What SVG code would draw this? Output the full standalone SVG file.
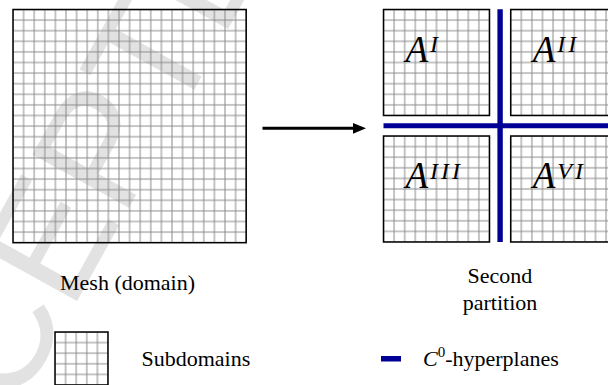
<svg xmlns="http://www.w3.org/2000/svg" width="608" height="385" viewBox="0 0 608 385">
  <defs>
    <style>
      .lbl { font-family: "Liberation Serif", "Times New Roman", serif; font-size: 22px; fill: #000; }
      .mathA { font-family: "Liberation Serif", "Times New Roman", serif; font-style: italic; font-size: 37px; fill: #000; }
      .sup { font-size: 24px; letter-spacing: 3px; }
      .frame { fill: url(#cells); stroke: #000; stroke-width: 1.5; }
      .plane { stroke: #000096; fill: none; }
      .stamp { font-family: "Liberation Sans", Arial, sans-serif; font-size: 160px; fill: #e2e2e2; }
    </style>
    <!-- one mesh cell, 10.6 px; tile edges share half of each line -->
    <pattern id="cells" patternUnits="userSpaceOnUse" width="10.6" height="10.6">
      <path d="M0 0H10.6M0 10.6H10.6M0 0V10.6M10.6 0V10.6" stroke="#8a8a8a" stroke-width="1"/>
    </pattern>
    <marker id="head" markerUnits="userSpaceOnUse" markerWidth="14" markerHeight="12" refX="1" refY="6" orient="auto">
      <path d="M0 0.6L13 6L0 11.4Z" fill="#000"/>
    </marker>
  </defs>

  <rect width="608" height="385" fill="#fff"/>

  <!-- faint background stamp -->
  <text class="stamp" transform="translate(-93,608) rotate(-61)">ACCEPTED</text>

  <!-- full mesh, 22 x 22 cells -->
  <g id="mesh">
    <rect class="frame" x="0" y="0" width="233.2" height="233.2" transform="translate(13,9.5)"/>
    <text class="lbl" x="60" y="289.5">Mesh (domain)</text>
  </g>

  <!-- second partition: four 10 x 10 subdomains split by C0 hyperplanes -->
  <g id="partition">
    <g id="sub-1" transform="translate(383.5,9.5)">
      <rect class="frame" width="106" height="106"/>
      <text class="mathA" x="22" y="52.2">A<tspan class="sup" dx="2" dy="-9.5">I</tspan></text>
    </g>
    <g id="sub-2" transform="translate(510.7,9.5)">
      <rect class="frame" width="106" height="106"/>
      <text class="mathA" x="22" y="52.2">A<tspan class="sup" dx="2" dy="-9.5">II</tspan></text>
    </g>
    <g id="sub-3" transform="translate(383.5,136)">
      <rect class="frame" width="106" height="106"/>
      <text class="mathA" x="22" y="52.3">A<tspan class="sup" dx="2" dy="-9.5">III</tspan></text>
    </g>
    <g id="sub-4" transform="translate(510.7,136)">
      <rect class="frame" width="106" height="106"/>
      <text class="mathA" x="22" y="52.3">A<tspan class="sup" dx="2" dy="-9.5">VI</tspan></text>
    </g>
    <g id="hyperplanes">
      <line class="plane" x1="383.5" y1="125.8" x2="608" y2="125.8" stroke-width="5"/>
      <line class="plane" x1="500.1" y1="9.3" x2="500.1" y2="242" stroke-width="5.4"/>
    </g>
    <text class="lbl" x="500" y="282.5" text-anchor="middle">Second</text>
    <text class="lbl" x="500" y="309.5" text-anchor="middle">partition</text>
  </g>

  <!-- connectors -->
  <g id="connectors">
    <line x1="262.5" y1="128.3" x2="354" y2="128.3" stroke="#000" stroke-width="3" marker-end="url(#head)"/>
  </g>

  <!-- legend -->
  <g id="legend-subdomains">
    <rect class="frame" width="53" height="53" transform="translate(55,332)"/>
    <text class="lbl" x="141.5" y="366">Subdomains</text>
  </g>
  <g id="legend-hyperplanes">
    <rect x="381" y="356" width="20" height="5.5" fill="#000096"/>
    <text class="lbl" x="423" y="366"><tspan font-style="italic">C</tspan><tspan font-size="15" dy="-9">0</tspan><tspan dy="9">-hyperplanes</tspan></text>
  </g>
</svg>
